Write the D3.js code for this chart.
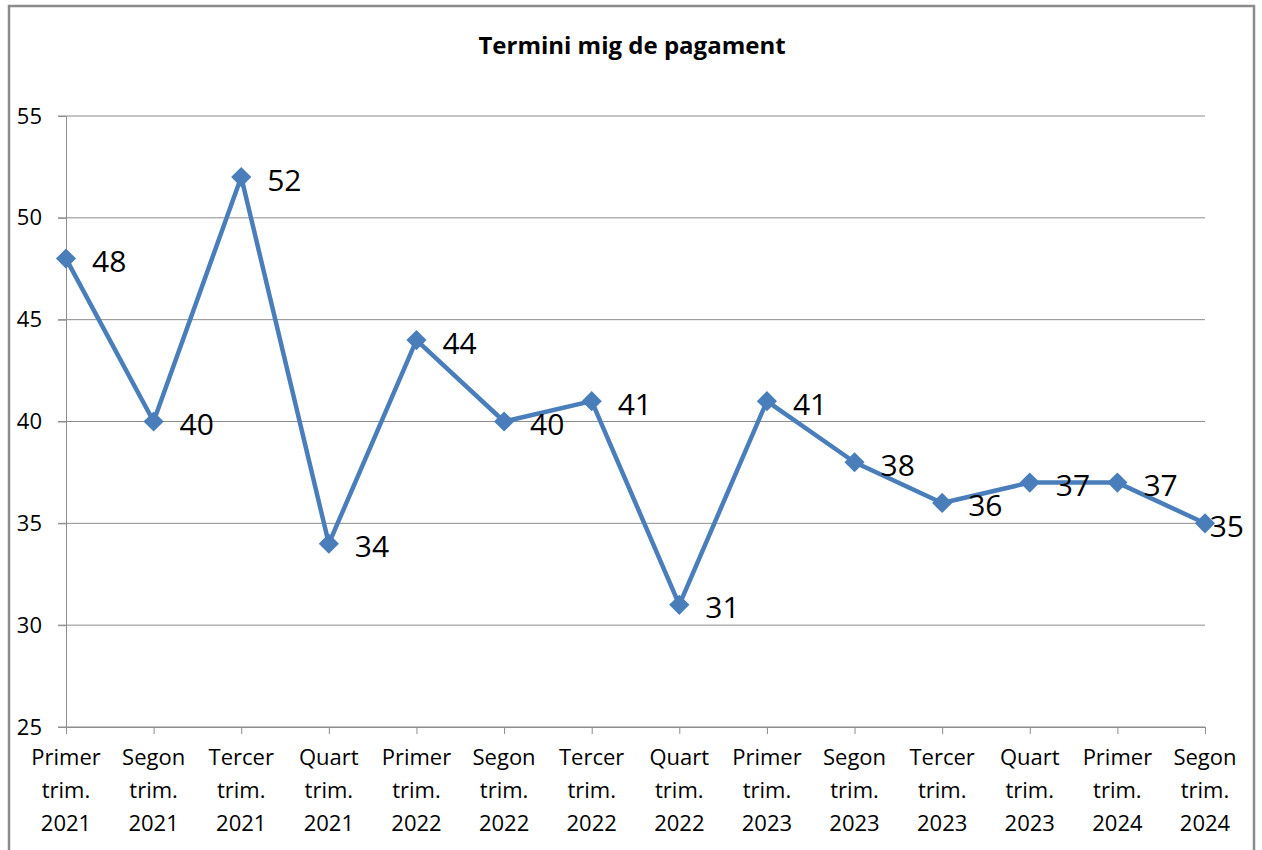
<!DOCTYPE html>
<html>
<head>
<meta charset="utf-8">
<script src="https://cdn.jsdelivr.net/npm/d3@7"></script>
<style>
  html, body { margin: 0; padding: 0; background: #fff; }
  text { font-family: "Open Sans", sans-serif; fill: #000; }
</style>
</head>
<body>
<div id="chart"></div>
<script>
// Termini mig de pagament - line chart
const title = "Termini mig de pagament";
const categories = [
    "Primer trim. 2021", "Segon trim. 2021", "Tercer trim. 2021", "Quart trim. 2021",
    "Primer trim. 2022", "Segon trim. 2022", "Tercer trim. 2022", "Quart trim. 2022",
    "Primer trim. 2023", "Segon trim. 2023", "Tercer trim. 2023", "Quart trim. 2023",
    "Primer trim. 2024", "Segon trim. 2024"
];
const values = [48, 40, 52, 34, 44, 40, 41, 31, 41, 38, 36, 37, 37, 35];
const yTicks = [25, 30, 35, 40, 45, 50, 55];

document.addEventListener('DOMContentLoaded', function () {
    renderChart();
});

function renderChart() {
    const width = 1262;
    const height = 850;
    const margin = { left: 66, right: 57, top: 116, bottom: 123 };

    const svg = d3.select("#chart")
        .append("svg")
        .attr("width", width)
        .attr("height", height);

    // Outer frame
    svg.append("rect")
        .attr("x", 9)
        .attr("y", 6)
        .attr("width", 1245)
        .attr("height", 860)
        .style("fill", "none")
        .style("stroke", "#8c8c8c")
        .style("stroke-width", 2.5);

    svg.append("text")
        .attr("x", 632)
        .attr("y", 54)
        .attr("text-anchor", "middle")
        .style("font-size", "24px")
        .style("font-weight", "bold")
        .text(title);

    const x = d3.scalePoint()
        .domain(categories)
        .range([margin.left, width - margin.right]);

    const y = d3.scaleLinear()
        .domain([25, 55])
        .range([height - margin.bottom, margin.top]);

    // Gridlines
    svg.append("g")
        .selectAll("line")
        .data(yTicks)
        .enter()
        .append("line")
        .attr("x1", margin.left - 8)
        .attr("x2", width - margin.right)
        .attr("y1", d => y(d))
        .attr("y2", d => y(d))
        .style("stroke", "#8c8c8c")
        .style("stroke-width", 1);

    // Y axis
    const yAxis = svg.append("g")
        .attr("transform", `translate(${margin.left},0)`)
        .call(d3.axisLeft(y).tickValues(yTicks).tickSize(8).tickPadding(16));
    yAxis.select(".domain").style("stroke", "#8c8c8c");
    yAxis.selectAll(".tick line").style("stroke", "#8c8c8c");
    yAxis.selectAll("text")
        .style("font-size", "22px")
        .style("font-family", "Open Sans, sans-serif")
        .attr("fill", "#000");

    // X axis
    const xAxis = svg.append("g")
        .attr("transform", `translate(0,${y(25)})`)
        .call(d3.axisBottom(x).tickSize(7).tickSizeOuter(0).tickFormat(""));
    xAxis.select(".domain").style("stroke", "#8c8c8c");
    xAxis.selectAll(".tick line").style("stroke", "#8c8c8c");

    const xLabels = svg.append("g")
        .selectAll("text")
        .data(categories)
        .enter()
        .append("text")
        .attr("x", d => x(d))
        .attr("y", y(25) + 38)
        .attr("text-anchor", "middle")
        .style("font-size", "22px");
    xLabels.selectAll("tspan")
        .data(d => d.split(" ").map(w => ({ w: w, cat: d })))
        .enter()
        .append("tspan")
        .attr("x", d => x(d.cat))
        .attr("dy", (d, i) => i === 0 ? 0 : 33)
        .text(d => d.w);

    const points = categories.map((c, i) => ({ cat: c, value: values[i] }));

    // Line
    svg.append("path")
        .datum(points)
        .attr("d", d3.line().x(d => x(d.cat)).y(d => y(d.value)))
        .style("fill", "none")
        .style("stroke", "#4a7ebb")
        .style("stroke-width", 4.5)
        .style("stroke-linejoin", "round");

    // Markers
    svg.append("g")
        .selectAll("path")
        .data(points)
        .enter()
        .append("path")
        .attr("transform", d => `translate(${x(d.cat)},${y(d.value)})`)
        .attr("d", d3.symbol().type(d3.symbolDiamond2).size(260))
        .style("fill", "#4a7ebb");

    // Data labels
    const labels = svg.append("g")
        .selectAll("text")
        .data(points)
        .enter()
        .append("text")
        .attr("x", d => x(d.cat) + 26)
        .attr("y", d => y(d.value) + 2)
        .attr("dominant-baseline", "central")
        .style("font-size", "30px")
        .text(d => d.value);

    // keep labels inside the frame
    labels.each(function () {
        const w = this.getComputedTextLength();
        const lx = +this.getAttribute("x");
        if (lx + w > 1244) this.setAttribute("x", 1244 - w);
    });
}
</script>
</body>
</html>
